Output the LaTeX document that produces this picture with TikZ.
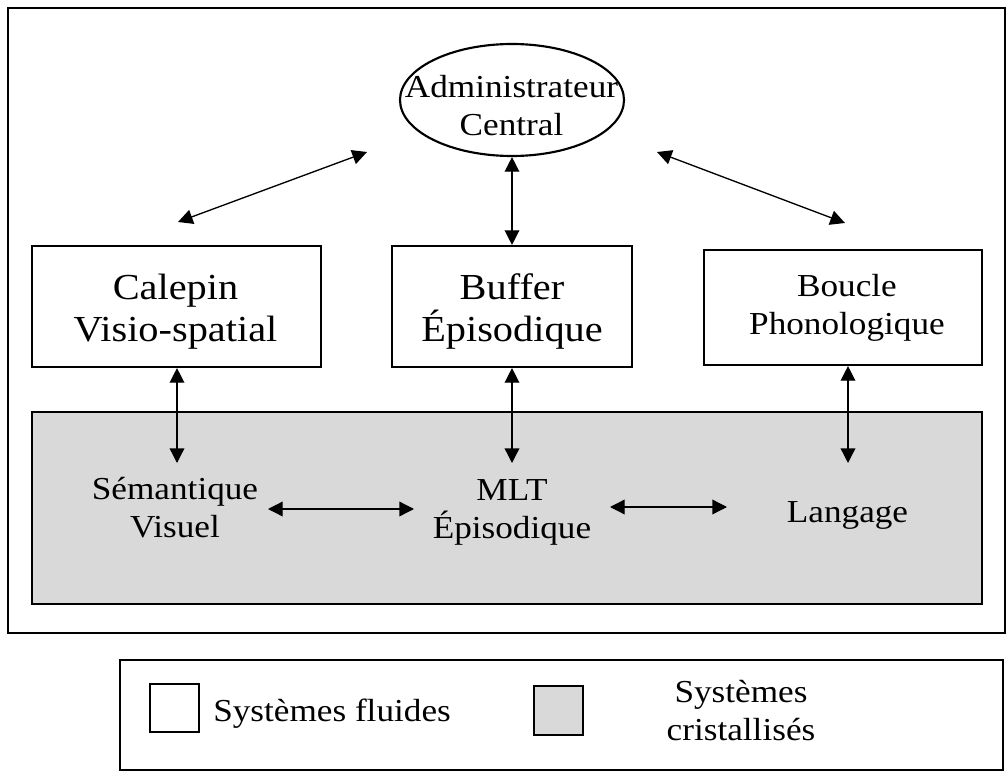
\documentclass[tikz,border=0pt]{standalone}
\usepackage{fontspec}
\setmainfont{Liberation Serif}[FakeStretch=1.1]
\usetikzlibrary{shapes.geometric,arrows.meta}
\begin{document}
\begin{tikzpicture}[x=0.75pt,y=-0.75pt,
  frame/.style={draw=black,line width=1.6pt},
  box/.style={draw=black,line width=1.6pt,fill=white,rectangle,inner sep=0pt},
  link/.style={line width=1pt,{Triangle[length=11pt,width=11pt]}-{Triangle[length=11pt,width=11pt]}},
  lbl/.style={align=center,inner sep=0pt},
  big/.style={lbl,font=\fontsize{27.5}{31.5}\selectfont},
  mid/.style={lbl,font=\fontsize{24}{28.5}\selectfont}]
\useasboundingbox (0,0) rectangle (1008,778);
% outer frame and long-term store
\draw[frame] (8,8) rectangle (1005,633);
\draw[frame,fill={rgb,255:red,217;green,217;blue,217}] (32,412) rectangle (982,604);
% central executive
\node[draw=black,line width=1.6pt,ellipse,minimum width=224*0.75pt,minimum height=112*0.75pt,
  inner sep=0pt] (ce) at (512,100) {};
\node[mid] (cet) at (511.5,106) {Administrateur\\Central};
% slave systems
\node[box,minimum width=289*0.75pt,minimum height=121*0.75pt] (vs) at (176.5,306.5) {};
\node[big] (vst) at (175.5,311.5) {Calepin\\Visio-spatial};
\node[box,minimum width=240*0.75pt,minimum height=121*0.75pt] (eb) at (512,306.5) {};
\node[big] (ebt) at (512,311.5) {Buffer\\Épisodique};
\node[box,minimum width=278*0.75pt,minimum height=115*0.75pt] (pl) at (843,307.5) {};
\node[mid] (plt) at (847,308) {Boucle\\Phonologique};
% long-term contents
\node[mid] (sv) at (175,508) {Sémantique\\Visuel};
\node[mid] (ml) at (512,512) {MLT\\Épisodique};
\node[mid] (lg) at (847.5,515) {Langage};
% arrow ends
\coordinate (a1) at (178,222); \coordinate (a2) at (367,152);
\coordinate (b1) at (657,152); \coordinate (b2) at (845,223);
\coordinate (vsd) at (177,463); \coordinate (ebd) at (512,463); \coordinate (pld) at (848,463);
\coordinate (h1) at (268,509); \coordinate (h2) at (414,509);
\coordinate (h3) at (610,507); \coordinate (h4) at (727,507);
\draw[link] (a1) -- (a2);
\draw[link] (b1) -- (b2);
\draw[link] (ce.south) -- (eb.north);
\draw[link] (vs.south -| vsd) -- (vsd);
\draw[link] (eb.south) -- (ebd);
\draw[link] (pl.south -| pld) -- (pld);
\draw[link] (h1) -- (h2);
\draw[link] (h3) -- (h4);
% legend
\draw[frame] (120,660) rectangle (1003,770);
\draw[frame] (150,684) rectangle (199,732);
\node[mid,anchor=west] (fl) at (213,713.5) {Systèmes fluides};
\draw[frame,fill={rgb,255:red,217;green,217;blue,217}] (534,686) rectangle (583,735);
\node[mid] (cr) at (741,711) {Systèmes\\cristallisés};
\end{tikzpicture}
\end{document}
